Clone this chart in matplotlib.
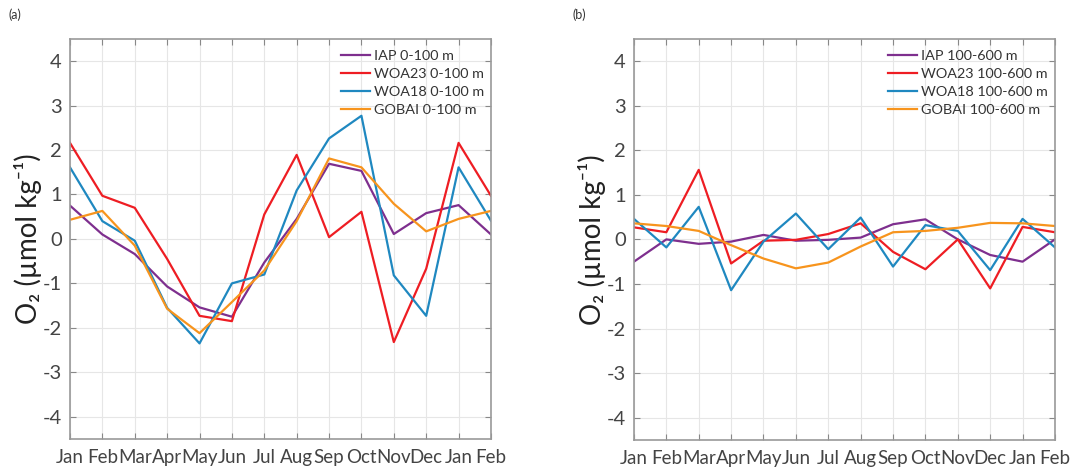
import matplotlib
matplotlib.use('Agg')
import matplotlib.pyplot as plt
import numpy as np

months = ['Jan', 'Feb', 'Mar', 'Apr', 'May', 'Jun', 'Jul', 'Aug', 'Sep', 'Oct', 'Nov', 'Dec', 'Jan', 'Feb']

# panel (a) 0-100 m
iap_a = [0.75, 0.10, -0.34, -1.07, -1.54, -1.75, -0.53, 0.45, 1.69, 1.53, 0.11, 0.58, 0.76, 0.10]
woa23_a = [2.16, 0.97, 0.70, -0.45, -1.73, -1.85, 0.55, 1.89, 0.04, 0.61, -2.32, -0.67, 2.16, 0.97]
woa18_a = [1.61, 0.40, -0.04, -1.55, -2.35, -1.00, -0.80, 1.09, 2.26, 2.77, -0.82, -1.73, 1.61, 0.41]
gobai_a = [0.43, 0.63, -0.15, -1.57, -2.12, -1.42, -0.71, 0.40, 1.81, 1.61, 0.79, 0.17, 0.45, 0.63]

# panel (b) 100-600 m
iap_b = [-0.50, 0.00, -0.10, -0.05, 0.10, -0.03, -0.01, 0.04, 0.34, 0.45, 0.00, -0.35, -0.50, 0.00]
woa23_b = [0.27, 0.16, 1.56, -0.54, -0.03, -0.01, 0.12, 0.36, -0.28, -0.67, 0.00, -1.10, 0.28, 0.16]
woa18_b = [0.46, -0.18, 0.73, -1.14, -0.05, 0.58, -0.22, 0.49, -0.61, 0.32, 0.19, -0.69, 0.46, -0.18]
gobai_b = [0.36, 0.30, 0.19, -0.13, -0.43, -0.65, -0.52, -0.16, 0.16, 0.19, 0.26, 0.37, 0.36, 0.30]

colors = {'IAP': '#7E2F8E', 'WOA23': '#EE1D23', 'WOA18': '#1F88C0', 'GOBAI': '#F7941D'}
txt = '#444444'

plt.rcParams['font.family'] = ['Lato', 'DejaVu Sans']

fig = plt.figure(figsize=(10.85, 4.68), dpi=100)
ax_a = fig.add_axes([0.0645, 0.062, 0.388, 0.855])
ax_b = fig.add_axes([0.5843, 0.060, 0.388, 0.857])

x = np.arange(1, len(months) + 1)


def draw(ax, series, depth, tag):
    for name, vals in series:
        ax.plot(x, vals, color=colors[name], lw=1.6, label=f'{name} {depth}')
    ax.set_xlim(1, 14)
    ax.set_ylim(-4.5, 4.5)
    ax.set_xticks(x)
    ax.set_xticklabels(months, fontsize=13.5, color=txt)
    ax.set_yticks(range(-4, 5))
    ax.set_yticklabels([str(v) for v in range(-4, 5)], fontsize=14.5, color=txt)
    ax.tick_params(direction='in', length=4, color='#888888', top=True, right=True, pad=6)
    ax.tick_params(axis='x', pad=7)
    ax.grid(True, color='#e6e6e6', lw=0.8)
    ax.set_axisbelow(True)
    for s in ax.spines.values():
        s.set_color('#999999')
        s.set_linewidth(1.2)
    ax.set_ylabel('O\u2082 (\u00b5mol kg\u207b\u00b9)', fontsize=20, color='#222222', labelpad=0)
    leg = ax.legend(loc='upper right', frameon=False, fontsize=10.4, handlelength=2.0,
                    handletextpad=0.25, labelspacing=0.4, borderaxespad=0.1,
                    bbox_to_anchor=(1.0, 0.99))
    for t in leg.get_texts():
        t.set_color('#333333')
    ax.text(-0.145, 1.05, tag, transform=ax.transAxes, fontsize=9, color='#333333')


draw(ax_a, [('IAP', iap_a), ('WOA23', woa23_a), ('WOA18', woa18_a), ('GOBAI', gobai_a)], '0-100 m', '(a)')
draw(ax_b, [('IAP', iap_b), ('WOA23', woa23_b), ('WOA18', woa18_b), ('GOBAI', gobai_b)], '100-600 m', '(b)')

fig.savefig('out.png', dpi=100)
